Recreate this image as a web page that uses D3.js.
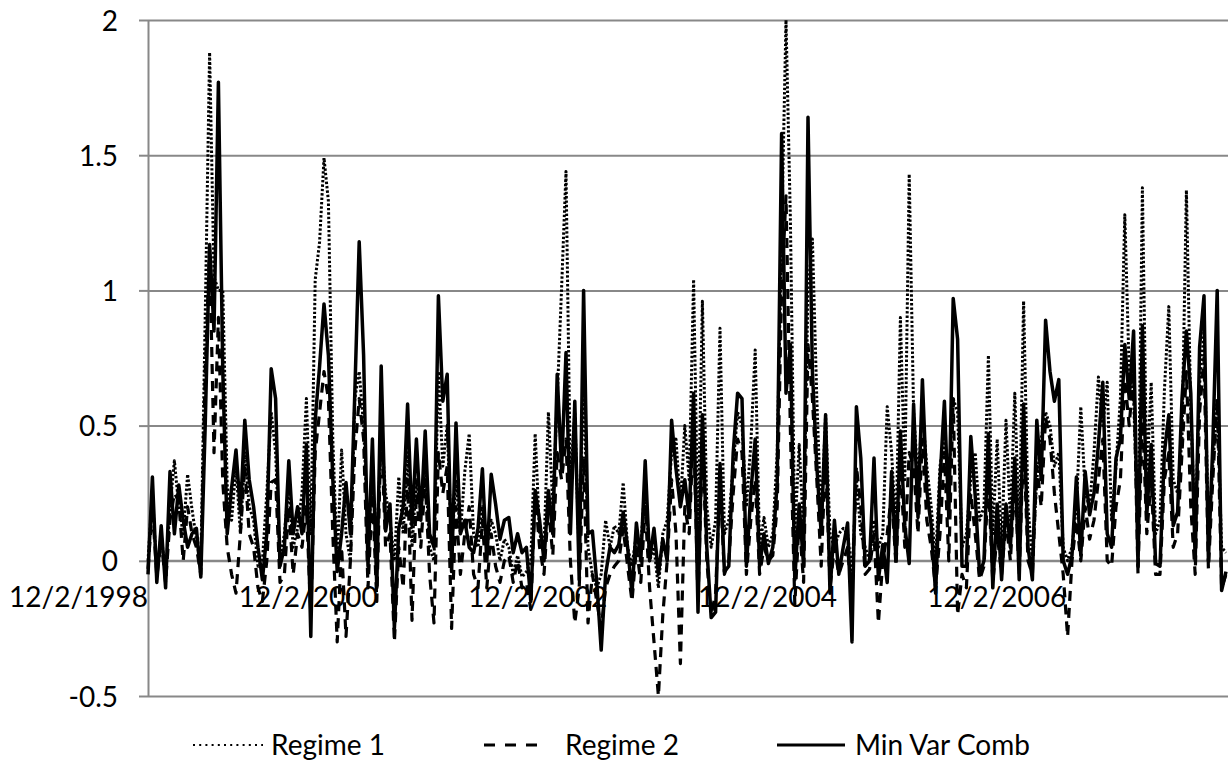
<!DOCTYPE html>
<html>
<head>
<meta charset="utf-8">
<script src="https://cdn.jsdelivr.net/npm/d3@7"></script>
<style>
  body { margin: 0; background: #fff; }
  svg { display: block; font-family: Lato, 'Open Sans', sans-serif; }
</style>
</head>
<body>
<svg id="chart" width="1231" height="773"></svg>
<script>
// one value every two weeks, first one on 12/2/1998
const startDate = '12/2/1998'
const stepDays = 14

const regime1 = [
  0.0, 0.25, -0.05, 0.1, -0.06, 0.2, 0.37, 0.2, 0.1, 0.32,
  0.19, 0.08, -0.02, 0.9, 1.88, 1.05, 1.0, 1.0, 0.28, 0.15,
  0.35, 0.1, 0.4, 0.2, 0.15, -0.02, 0.0, 0.25, 0.55, 0.4,
  0.0, 0.1, 0.28, 0.05, 0.12, 0.25, 0.6, 0.1, 1.04, 1.18,
  1.49, 1.33, 0.45, 0.0, 0.41, 0.1, 0.0, 0.6, 0.7, 0.5,
  0.1, 0.3, 0.05, 0.48, 0.25, 0.15, 0.0, 0.31, 0.1, 0.4,
  0.05, 0.3, 0.18, 0.35, 0.05, 0.0, 0.7, 0.35, 0.5, 0.05,
  0.3, 0.1, 0.33, 0.47, 0.1, 0.05, 0.2, 0.05, 0.15, 0.1,
  0.0, 0.08, 0.05, -0.05, 0.02, -0.06, -0.04, 0.0, 0.47, 0.1,
  0.05, 0.55, 0.2, 0.6, 1.01, 1.44, 0.3, 0.55, 0.0, 0.7,
  0.05, -0.05, -0.1, -0.05, 0.15, 0.05, 0.13, 0.1, 0.29, 0.05,
  -0.02, 0.1, 0.05, 0.3, 0.0, 0.05, -0.1, 0.1, 0.15, 0.4,
  0.45, 0.2, 0.5, 0.3, 1.04, 0.1, 0.96, 0.2, 0.05, 0.15,
  0.86, 0.1, 0.15, 0.35, 0.55, 0.5, 0.2, 0.43, 0.78, 0.05,
  0.16, 0.05, 0.1, 0.4, 1.2, 2.0, 1.26, 0.1, 0.43, 0.1,
  1.0, 1.19, 0.6, 0.15, 0.54, 0.1, 0.05, 0.1, 0.12, 0.1,
  -0.05, 0.3, 0.1, 0.05, 0.0, 0.15, 0.05, 0.1, 0.57, 0.4,
  0.1, 0.9, 0.3, 1.43, 0.55, 0.3, 0.55, 0.35, 0.2, 0.0,
  0.35, 0.45, 0.3, 0.6, 0.55, 0.05, 0.1, 0.3, 0.4, 0.15,
  0.2, 0.76, 0.1, 0.45, 0.05, 0.52, 0.15, 0.62, 0.1, 0.96,
  0.2, 0.0, 0.3, 0.45, 0.55, 0.5, 0.35, 0.4, 0.05, 0.0,
  0.05, 0.2, 0.57, 0.25, 0.2, 0.4, 0.68, 0.5, 0.66, 0.15,
  0.35, 0.6, 1.28, 0.7, 0.6, 0.1, 1.38, 0.3, 0.66, 0.1,
  0.15, 0.63, 0.94, 0.3, 0.25, 0.45, 1.37, 0.55, 0.1, 0.65,
  0.85, 0.1, 0.35, 0.6, 0.05, 0.03
]

const regime2 = [
  -0.03, 0.2, -0.06, 0.08, -0.08, 0.15, 0.25, 0.22, 0.0, 0.2,
  0.1, 0.05, -0.05, 0.7, 1.15, 0.4, 0.9, 0.29, 0.05, -0.05,
  -0.12, 0.1, 0.35, 0.1, 0.05, -0.1, -0.15, 0.0, 0.29, 0.3,
  -0.08, -0.05, 0.2, -0.05, 0.1, 0.05, 0.2, -0.2, 0.4, 0.55,
  0.7, 0.6, 0.1, -0.3, 0.05, -0.28, 0.0, 0.4, 0.6, 0.45,
  -0.1, 0.25, -0.15, 0.5, 0.05, 0.1, -0.3, 0.05, -0.1, 0.3,
  -0.22, 0.25, 0.05, 0.3, -0.05, -0.23, 0.4, 0.25, 0.35, -0.25,
  0.2, -0.05, 0.1, 0.2, -0.05, -0.1, 0.15, -0.1, 0.1, -0.02,
  -0.08, 0.0, 0.02, -0.08, 0.0, -0.1, -0.08, -0.18, 0.25, 0.05,
  -0.05, 0.2, 0.02, 0.4, 0.3, 0.45, 0.0, -0.23, -0.1, 0.38,
  -0.23, -0.05, -0.15, -0.25, -0.1, -0.05, -0.02, 0.0, 0.12, -0.02,
  -0.15, 0.05, -0.08, 0.2, -0.1, -0.3, -0.5, -0.2, 0.0, 0.3,
  0.1, -0.38, 0.2, 0.1, 0.5, -0.15, 0.45, 0.0, -0.2, -0.12,
  0.3, -0.05, 0.0, 0.25, 0.45, 0.4, -0.05, 0.15, 0.3, -0.05,
  0.05, 0.0, 0.02, 0.2, 1.0, 1.35, 0.48, -0.16, 0.15, -0.08,
  0.8, 0.6, 0.3, -0.02, 0.4, -0.1, 0.05, -0.05, 0.0, 0.05,
  -0.15, 0.35, 0.2, -0.05, -0.03, 0.1, -0.23, 0.0, 0.1, 0.25,
  -0.02, 0.35, 0.05, 0.4, 0.35, 0.1, 0.45, 0.15, 0.05, -0.1,
  0.1, 0.4, 0.0, 0.6, -0.2, -0.05, -0.1, 0.25, 0.1, -0.07,
  -0.02, 0.3, -0.08, 0.1, -0.05, 0.15, 0.0, 0.3, -0.05, 0.45,
  0.0, -0.05, 0.35, 0.2, 0.53, 0.45, 0.25, 0.1, -0.05, -0.28,
  0.0, 0.15, 0.0, 0.2, 0.08, 0.15, 0.3, 0.45, 0.0, -0.02,
  0.2, 0.3, 0.67, 0.5, 0.7, -0.05, 0.55, 0.1, 0.3, -0.05,
  -0.05, 0.3, 0.4, 0.05, 0.1, 0.4, 0.7, 0.2, -0.05, 0.55,
  0.75, -0.03, 0.3, 0.6, -0.1, -0.05
]

const minVarComb = [
  -0.05, 0.31, -0.08, 0.13, -0.1, 0.33, 0.1, 0.28, 0.15, 0.05,
  0.1, 0.12, -0.06, 0.5, 1.17, 0.85, 1.77, 0.7, 0.1, 0.27,
  0.41, 0.18, 0.52, 0.3, 0.2, 0.05, -0.07, 0.1, 0.71, 0.6,
  -0.02, 0.05, 0.37, 0.1, 0.2, 0.1, 0.43, -0.28, 0.52, 0.72,
  0.95, 0.76, 0.3, -0.04, 0.1, 0.29, 0.1, 0.62, 1.18, 0.76,
  -0.02, 0.45, -0.1, 0.72, 0.11, 0.21, -0.25, 0.12, 0.2, 0.58,
  0.13, 0.45, 0.15, 0.48, 0.1, 0.05, 0.98, 0.59, 0.69, -0.04,
  0.51, 0.1, 0.15, 0.05, 0.03, 0.12, 0.34, 0.0, 0.32, 0.21,
  0.08, 0.15, 0.16, 0.03, 0.1, 0.03, 0.05, -0.15, 0.26, 0.15,
  0.0, 0.26, 0.1, 0.69, 0.34, 0.77, 0.1, 0.59, -0.07, 1.0,
  0.1, 0.11, -0.08, -0.33, -0.05, 0.05, 0.03, 0.06, 0.18, 0.05,
  -0.12, 0.14, 0.0, 0.37, 0.0, 0.12, -0.05, 0.08, 0.0, 0.52,
  0.34, 0.2, 0.3, 0.16, 0.62, -0.19, 0.54, 0.05, -0.21, -0.19,
  0.36, -0.04, -0.02, 0.4, 0.62, 0.6, -0.02, 0.25, 0.45, -0.02,
  0.1, -0.01, 0.05, 0.29, 1.58, 0.62, 0.8, -0.07, 0.21, -0.02,
  1.64, 0.7, 0.35, 0.1, 0.54, -0.12, 0.15, -0.05, 0.05, 0.14,
  -0.3, 0.57, 0.38, -0.02, 0.0, 0.38, -0.07, 0.06, -0.08, 0.33,
  0.0, 0.48, 0.13, -0.01, 0.58, 0.16, 0.67, 0.26, 0.13, -0.12,
  0.3, 0.59, 0.16, 0.97, 0.82, -0.02, -0.02, 0.46, 0.24, -0.05,
  0.0, 0.47, -0.1, 0.21, -0.07, 0.21, 0.05, 0.38, -0.07, 0.58,
  0.05, -0.07, 0.52, 0.3, 0.89, 0.7, 0.59, 0.67, 0.0, -0.05,
  0.02, 0.31, 0.02, 0.33, 0.17, 0.25, 0.43, 0.66, 0.1, 0.05,
  0.38, 0.45, 0.8, 0.6, 0.85, -0.02, 0.87, 0.17, 0.43, -0.01,
  -0.02, 0.4, 0.54, 0.13, 0.18, 0.6, 0.85, 0.62, 0.0, 0.79,
  0.98, 0.0, 0.43, 1.0, -0.11, -0.04
]

const yTicks = [-0.5, 0, 0.5, 1, 1.5, 2]
const xTickLabels = ['12/2/1998', '12/2/2000', '12/2/2002', '12/2/2004', '12/2/2006']
const seriesNames = ['Regime 1', 'Regime 2', 'Min Var Comb']

const parseDate = d3.timeParse('%m/%d/%Y')
const firstDate = parseDate(startDate)
const dates = minVarComb.map((v, i) => d3.timeDay.offset(firstDate, i * stepDays))

// plot box
const plotLeft = 148, plotRight = 1228, plotTop = 20, plotBottom = 696
const lineEnd = 1226

const svg = d3.select('#chart')

const x = d3.scaleTime()
  .domain([dates[0], dates[dates.length - 1]])
  .range([plotLeft, lineEnd])

const y = d3.scaleLinear()
  .domain([-0.5, 2])
  .range([plotBottom, plotTop])

// horizontal gridlines
svg.append('g')
  .attr('transform', 'translate(' + plotLeft + ',0)')
  .call(d3.axisLeft(y).tickValues(yTicks).tickSize(-(plotRight - plotLeft)).tickFormat(''))
  .call(g => g.select('.domain').remove())
  .call(g => g.selectAll('line').attr('stroke', '#888').attr('stroke-width', 2))

// value axis with outside tick marks
svg.append('g')
  .attr('transform', 'translate(' + plotLeft + ',0)')
  .call(d3.axisLeft(y).tickValues(yTicks).tickSize(9).tickSizeOuter(0).tickPadding(21)
    .tickFormat(d => String(d)))
  .call(g => g.select('.domain').attr('stroke', '#888').attr('stroke-width', 2))
  .call(g => g.selectAll('line').attr('stroke', '#888').attr('stroke-width', 2))
  .call(g => g.selectAll('text')
    .attr('fill', '#000')
    .attr('dy', '0.36em')
    .style('font-size', '28px')
    .style('font-family', 'Lato, sans-serif'))

// date axis crosses at 0, labels end on their date
svg.append('line')
  .attr('x1', plotLeft).attr('x2', plotRight)
  .attr('y1', y(0)).attr('y2', y(0))
  .attr('stroke', '#888')
  .attr('stroke-width', 2)

svg.append('g')
  .selectAll('text')
  .data(xTickLabels)
  .enter().append('text')
  .attr('x', d => x(parseDate(d)))
  .attr('y', y(0) + 46)
  .attr('text-anchor', 'end')
  .style('font-size', '28px')
  .text(d => d)

const styles = [
  {dash: '2.4,2', width: 3},
  {dash: '10,7', width: 3.2},
  {dash: null, width: 3.5}
]
const allSeries = [regime1, regime2, minVarComb]

const line = d3.line()
  .x((d, i) => x(dates[i]))
  .y(d => y(d))

svg.append('g')
  .selectAll('path')
  .data(allSeries)
  .enter().append('path')
  .attr('d', line)
  .attr('fill', 'none')
  .attr('stroke', '#000')
  .attr('stroke-width', (d, i) => styles[i].width)
  .attr('stroke-dasharray', (d, i) => styles[i].dash)
  .attr('stroke-linejoin', 'round')

// legend along the bottom, sample line then its name
const legendY = 745
const sampleX = [193, 484, 777]
const sampleLen = [70, 54, 68]
const sampleDash = ['2,4.2', '11,10', null]
const textX = [271, 565, 855]

const legend = svg.append('g')
  .selectAll('g')
  .data(seriesNames)
  .enter().append('g')

legend.append('line')
  .attr('x1', (d, i) => sampleX[i])
  .attr('x2', (d, i) => sampleX[i] + sampleLen[i])
  .attr('y1', legendY).attr('y2', legendY)
  .attr('stroke', '#000')
  .attr('stroke-width', (d, i) => i === 0 ? 2 : 3)
  .attr('stroke-dasharray', (d, i) => sampleDash[i])

legend.append('text')
  .attr('x', (d, i) => textX[i])
  .attr('y', legendY)
  .attr('dy', '0.36em')
  .style('font-size', '28px')
  .text(d => d)
</script>
</body>
</html>
